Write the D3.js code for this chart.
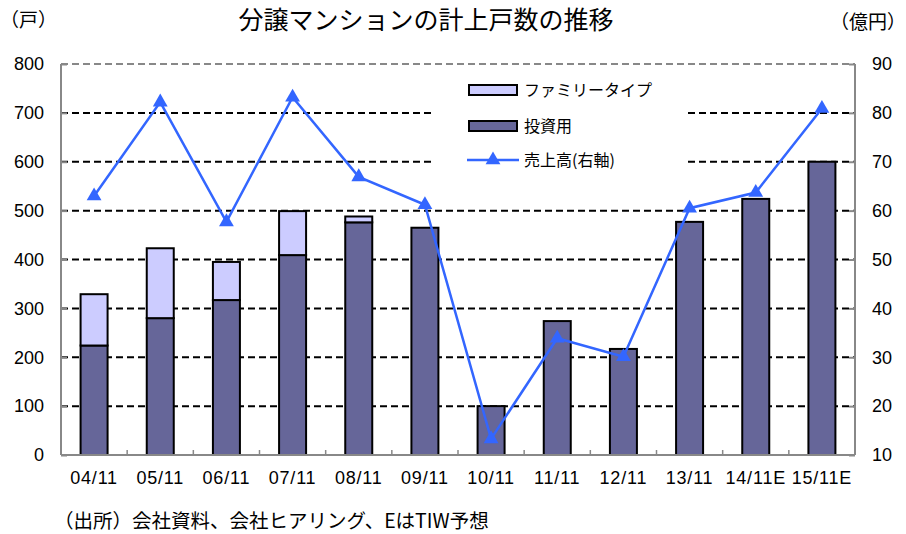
<!DOCTYPE html>
<html>
<head>
<meta charset="utf-8">
<script src="https://cdn.jsdelivr.net/npm/d3@7"></script>
<style>
  body { margin: 0; background: #fff; }
  text { font-family: "Liberation Sans", "Noto Sans CJK JP", sans-serif; fill: #000; }
  .jp { font-family: "Noto Sans CJK JP", sans-serif; }
</style>
</head>
<body>
<div id="chart"></div>
<script>
// data
const years = ["04/11", "05/11", "06/11", "07/11", "08/11", "09/11", "10/11", "11/11", "12/11", "13/11", "14/11E", "15/11E"];
const investUnits = [224, 280, 317, 409, 476, 465, 100, 274, 217, 477, 524, 600];
const familyUnits = [105, 143, 78, 90, 12, 0, 0, 0, 0, 0, 0, 0];
const sales = [63.0, 82.2, 57.7, 83.2, 66.9, 61.2, 13.3, 33.9, 30.1, 60.5, 63.7, 80.9];
const leftTicks = [0, 100, 200, 300, 400, 500, 600, 700, 800];
const rightTicks = [10, 20, 30, 40, 50, 60, 70, 80, 90];

const W = 906, H = 534;
const margin = { top: 64, right: 51, bottom: 79, left: 61 };
const width = W - margin.left - margin.right,
      height = H - margin.top - margin.bottom;

const svg = d3.select("#chart").append("svg")
  .attr("width", W)
  .attr("height", H);

const g = svg.append("g").attr("transform", `translate(${margin.left},${margin.top})`);

const x = d3.scaleBand().domain(years).range([0, width]).padding(0);
const y = d3.scaleLinear().domain([0, 800]).range([height, 0]);
const y2 = d3.scaleLinear().domain([10, 90]).range([height, 0]);
const barW = 27;
const axisColor = "#888";

// gridlines
g.selectAll(".grid")
  .data(leftTicks.filter(d => d > 0))
  .enter().append("line")
  .attr("x1", 0).attr("x2", width)
  .attr("y1", d => y(d)).attr("y2", d => y(d))
  .attr("stroke", d => d === 800 ? axisColor : "#000")
  .attr("stroke-width", 2)
  .attr("stroke-dasharray", "7,4");

// legend background hides gridlines behind it
g.append("rect")
  .attr("x", 432 - margin.left).attr("y", 73 - margin.top)
  .attr("width", 253).attr("height", 102)
  .attr("fill", "#fff");

// bars
const cols = g.selectAll(".col").data(years).enter().append("g")
  .attr("transform", d => `translate(${x(d) + x.bandwidth() / 2 - barW / 2},0)`);

cols.append("rect")
  .attr("y", (d, i) => y(investUnits[i]))
  .attr("width", barW)
  .attr("height", (d, i) => y(0) - y(investUnits[i]))
  .attr("fill", "#666699")
  .attr("stroke", "#000")
  .attr("stroke-width", 2);

cols.filter((d, i) => familyUnits[i] > 0).append("rect")
  .attr("y", d => y(investUnits[years.indexOf(d)] + familyUnits[years.indexOf(d)]))
  .attr("width", barW)
  .attr("height", d => y(0) - y(familyUnits[years.indexOf(d)]))
  .attr("fill", "#CCCCFF")
  .attr("stroke", "#000")
  .attr("stroke-width", 2);

// axes
const xAxis = g.append("g")
  .attr("transform", `translate(0,${height})`)
  .call(d3.axisBottom(x).tickSize(0).tickPadding(16));
xAxis.select(".domain").remove();
xAxis.selectAll("text").attr("font-size", 18).attr("letter-spacing", "0.8px");

// category separator ticks
g.selectAll(".sep").data(years.slice(1)).enter().append("line")
  .attr("x1", d => x(d)).attr("x2", d => x(d))
  .attr("y1", height).attr("y2", height - 5)
  .attr("stroke", axisColor).attr("stroke-width", 1.5);

g.append("line").attr("x1", 0).attr("x2", width).attr("y1", height).attr("y2", height)
  .attr("stroke", axisColor).attr("stroke-width", 2);
g.append("line").attr("x1", 0).attr("x2", 0).attr("y1", 0).attr("y2", height)
  .attr("stroke", axisColor).attr("stroke-width", 2);
g.append("line").attr("x1", width).attr("x2", width).attr("y1", 0).attr("y2", height)
  .attr("stroke", axisColor).attr("stroke-width", 2);

const yAxis = g.append("g")
  .call(d3.axisLeft(y).tickValues(leftTicks).tickSize(-6).tickPadding(17));
yAxis.select(".domain").remove();
yAxis.selectAll("line").attr("stroke", axisColor).attr("stroke-width", 2);
yAxis.selectAll("text").attr("font-size", 18).attr("x", -17);

const yAxis2 = g.append("g")
  .attr("transform", `translate(${width},0)`)
  .call(d3.axisRight(y2).tickValues(rightTicks).tickSize(-6).tickPadding(17));
yAxis2.select(".domain").remove();
yAxis2.selectAll("line").attr("stroke", axisColor).attr("stroke-width", 2);
yAxis2.selectAll("text").attr("font-size", 18).attr("x", 17);

// sales line
const lineColor = "#3366FF";
const line = d3.line()
  .x((d, i) => x(years[i]) + x.bandwidth() / 2)
  .y(d => y2(d));

g.append("path")
  .datum(sales)
  .attr("d", line)
  .attr("fill", "none")
  .attr("stroke", lineColor)
  .attr("stroke-width", 2.5);

const tri = d3.symbol().type(d3.symbolTriangle).size(95);
g.selectAll(".pt").data(sales).enter().append("path")
  .attr("d", tri)
  .attr("transform", (d, i) => `translate(${x(years[i]) + x.bandwidth() / 2},${y2(d)})`)
  .attr("fill", lineColor);

// legend
const legend = svg.append("g");
const legendItems = [
  { label: "ファミリータイプ", type: "rect", fill: "#CCCCFF", y: 90 },
  { label: "投資用", type: "rect", fill: "#666699", y: 126 },
  { label: "売上高(右軸)", type: "line", fill: lineColor, y: 160 }
];
legendItems.forEach(it => {
  if (it.type === "rect") {
    legend.append("rect")
      .attr("x", 469).attr("y", it.y - 5)
      .attr("width", 48).attr("height", 10)
      .attr("fill", it.fill).attr("stroke", "#000").attr("stroke-width", 2);
  } else {
    legend.append("line")
      .attr("x1", 467).attr("x2", 519).attr("y1", it.y).attr("y2", it.y)
      .attr("stroke", it.fill).attr("stroke-width", 2.5);
    legend.append("path").attr("d", tri)
      .attr("transform", `translate(493,${it.y})`).attr("fill", it.fill);
  }
  legend.append("text")
    .attr("class", "jp")
    .attr("x", 524).attr("y", it.y)
    .attr("dy", "0.35em")
    .attr("font-size", 16)
    .text(it.label);
});

// titles
svg.append("text").attr("class", "jp")
  .attr("x", 426).attr("y", 20).attr("dy", "0.35em")
  .attr("text-anchor", "middle").attr("font-size", 25)
  .text("分譲マンションの計上戸数の推移");

svg.append("text").attr("class", "jp")
  .attr("x", 0).attr("y", 20).attr("dy", "0.35em")
  .attr("font-size", 19)
  .text("（戸）");

svg.append("text").attr("class", "jp")
  .attr("x", 906).attr("y", 22).attr("dy", "0.35em")
  .attr("text-anchor", "end").attr("font-size", 19)
  .text("（億円）");

svg.append("text").attr("class", "jp")
  .attr("x", 54).attr("y", 521).attr("dy", "0.35em")
  .attr("font-size", 19.5)
  .text("（出所）会社資料、会社ヒアリング、EはTIW予想");
</script>
</body>
</html>
